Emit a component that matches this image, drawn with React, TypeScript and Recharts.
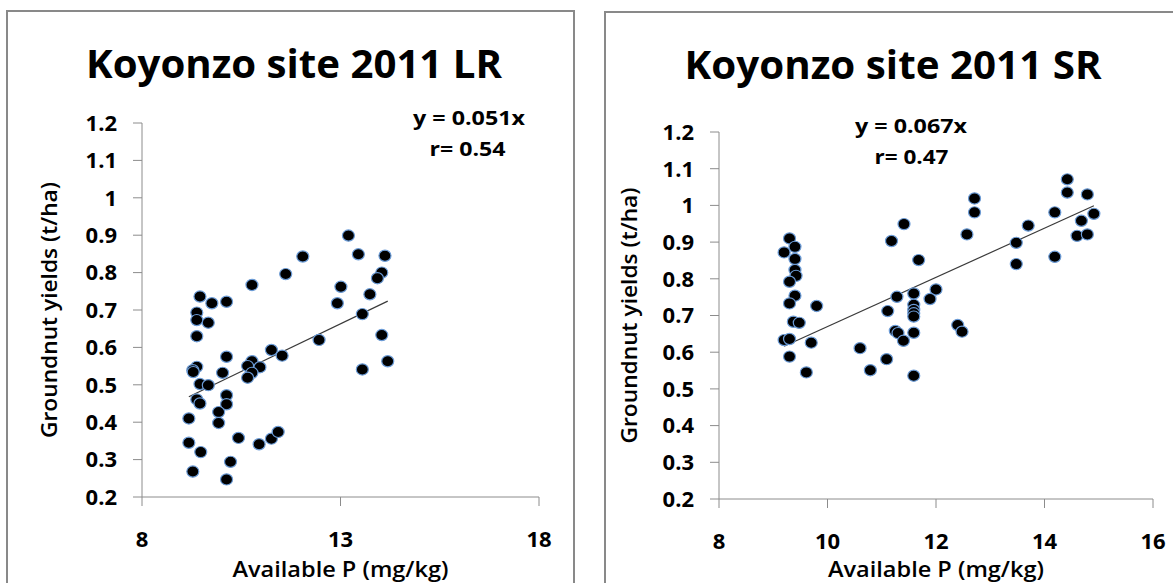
import React from 'react';
import { ScatterChart, Scatter, XAxis, YAxis, ReferenceLine } from 'recharts';

// Koyonzo 2011 long rains (LR): available P vs groundnut yield
const lrP = [
  13.2, 12.05, 13.45, 14.12, 11.62, 14.04, 13.93, 10.77, 13.01, 13.74, 9.46, 9.76, 10.13, 12.92,
  9.38, 9.38, 9.67, 13.55, 9.38, 14.04, 12.46, 11.26, 11.53, 14.19, 10.13, 10.77, 10.66, 10.97,
  9.38, 9.28, 9.29, 10.03, 10.77, 10.66, 13.55, 9.46, 9.67, 9.38, 9.46, 10.13, 10.13, 9.93, 9.93,
  9.18, 9.18, 10.43, 10.95, 11.26, 11.43, 9.48, 10.23, 9.28, 10.13,
];
const lrYield = [
  0.899, 0.843, 0.849, 0.845, 0.796, 0.8, 0.785, 0.767, 0.762, 0.742, 0.736, 0.718, 0.722, 0.718,
  0.693, 0.673, 0.666, 0.689, 0.63, 0.633, 0.62, 0.593, 0.578, 0.563, 0.575, 0.563, 0.55, 0.547,
  0.548, 0.539, 0.534, 0.532, 0.532, 0.519, 0.541, 0.502, 0.499, 0.461, 0.45, 0.472, 0.448, 0.427,
  0.398, 0.41, 0.345, 0.358, 0.341, 0.356, 0.374, 0.32, 0.294, 0.268, 0.247,
];

// Koyonzo 2011 short rains (SR)
const srP = [
  14.42, 14.42, 14.79, 12.71, 12.71, 14.19, 14.91, 14.68, 13.7, 11.41, 12.57, 14.6, 14.79, 13.48,
  11.18, 9.3, 9.2, 9.4, 9.4, 11.68, 14.19, 13.48, 9.4, 9.42, 9.3, 12.0, 11.59, 11.89, 9.4, 11.28,
  9.3, 9.8, 11.59, 11.59, 11.59, 11.59, 11.11, 9.37, 9.48, 12.4, 12.48, 11.25, 11.3, 11.59, 9.2,
  9.3, 11.4, 9.7, 10.6, 9.3, 11.09, 10.79, 9.61, 11.59,
];
const srYield = [
  1.071, 1.035, 1.03, 1.019, 0.981, 0.981, 0.977, 0.958, 0.945, 0.949, 0.921, 0.917, 0.921, 0.898,
  0.903, 0.91, 0.872, 0.887, 0.854, 0.851, 0.86, 0.84, 0.824, 0.808, 0.792, 0.771, 0.76, 0.745,
  0.754, 0.751, 0.733, 0.726, 0.729, 0.715, 0.706, 0.697, 0.712, 0.683, 0.68, 0.674, 0.656, 0.658,
  0.652, 0.653, 0.633, 0.636, 0.631, 0.626, 0.611, 0.588, 0.581, 0.551, 0.545, 0.536,
];

const lrSlope = 0.051;
const srSlope = 0.067;

const yTicks = [0.2, 0.3, 0.4, 0.5, 0.6, 0.7, 0.8, 0.9, 1, 1.1, 1.2];
const lrXTicks = [8, 13, 18];
const srXTicks = [8, 10, 12, 14, 16];

const FONT = '"Open Sans", Lato, sans-serif';
const AXIS = '#8c8c8c';

const toPoints = (xs: number[], ys: number[]) => xs.map((p, i) => ({ p, y: ys[i] }));
const fitSegment = (xs: number[], slope: number) => {
  const lo = Math.min(...xs);
  const hi = Math.max(...xs);
  return [
    { x: lo, y: slope * lo },
    { x: hi, y: slope * hi },
  ];
};

const fmtY = (v: number) => String(Math.round(v * 10) / 10);

const Dot = (props: any) => (
  <ellipse cx={props.cx} cy={props.cy} rx={6} ry={5.6} fill="#000" stroke="#6b9bd6" strokeWidth={1.2} />
);

const tickStyle = { fill: '#000', fontSize: 22, fontWeight: 700, fontFamily: FONT };

const yTitle = (cx: number, len: number) => (props: any) => {
  const vb = props.viewBox || {};
  const cy = vb.y + vb.height / 2;
  return (
    <text
      x={cx}
      y={cy}
      transform={`rotate(-90, ${cx}, ${cy})`}
      textAnchor="middle"
      dominantBaseline="central"
      fontFamily={FONT}
      fontSize={22}
      fontWeight={600}
      fill="#000"
      textLength={len}
      lengthAdjust="spacingAndGlyphs"
    >
      Groundnut yields (t/ha)
    </text>
  );
};

const xTitle = (baseline: number, len: number) => (props: any) => {
  const vb = props.viewBox || {};
  return (
    <text
      x={vb.x + vb.width / 2}
      y={baseline}
      textAnchor="middle"
      fontFamily={FONT}
      fontSize={22}
      fontWeight={600}
      fill="#000"
      textLength={len}
      lengthAdjust="spacingAndGlyphs"
    >
      Available P (mg/kg)
    </text>
  );
};

interface PanelProps {
  left: number;
  width: number;
  margin: { top: number; right: number; bottom: number; left: number };
  yAxisWidth: number;
  xAxisHeight: number;
  xDomain: [number, number];
  xTicks: number[];
  xs: number[];
  ys: number[];
  slope: number;
  yTitleX: number;
}

const Panel: React.FC<PanelProps> = ({ left, width, margin, yAxisWidth, xAxisHeight, xDomain, xTicks, xs, ys, slope, yTitleX }) => (
  <div style={{ position: 'absolute', left, top: 0 }}>
    <ScatterChart width={width} height={583} margin={margin}>
      <XAxis
        type="number"
        dataKey="p"
        domain={xDomain}
        ticks={xTicks}
        interval={0}
        height={xAxisHeight}
        tickSize={9}
        tickMargin={25}
        axisLine={{ stroke: AXIS }}
        tickLine={{ stroke: AXIS }}
        tick={tickStyle}
        label={{ content: xTitle(577, 216) }}
      />
      <YAxis
        type="number"
        dataKey="y"
        domain={[0.2, 1.2]}
        ticks={yTicks}
        interval={0}
        width={yAxisWidth}
        tickSize={9}
        tickMargin={16}
        tickFormatter={fmtY}
        axisLine={{ stroke: AXIS }}
        tickLine={{ stroke: AXIS }}
        tick={tickStyle}
        label={{ content: yTitle(yTitleX, 256) }}
      />
      <ReferenceLine segment={fitSegment(xs, slope)} stroke="#3a3a3a" strokeWidth={1.2} ifOverflow="visible" />
      <Scatter data={toPoints(xs, ys)} shape={Dot} isAnimationActive={false} />
    </ScatterChart>
  </div>
);

const labelText = { fontFamily: FONT, fill: '#000', lengthAdjust: 'spacingAndGlyphs' as const };

export default function App() {
  return (
    <div style={{ position: 'absolute', left: 0, top: 0, width: 1173, height: 583, overflow: 'hidden', background: '#fff' }}>
      {/* panel frames */}
      <div style={{ position: 'absolute', left: 6, top: 10, width: 565, height: 600, border: '2px solid #898989' }} />
      <div style={{ position: 'absolute', left: 604, top: 11, width: 600, height: 600, border: '2px solid #898989' }} />

      <Panel
        left={0}
        width={580}
        margin={{ top: 123, right: 41, bottom: 0, left: 0 }}
        yAxisWidth={142}
        xAxisHeight={86}
        xDomain={[8, 18]}
        xTicks={lrXTicks}
        xs={lrP}
        ys={lrYield}
        slope={lrSlope}
        yTitleX={48}
      />
      <Panel
        left={590}
        width={583}
        margin={{ top: 132, right: 20, bottom: 0, left: 0 }}
        yAxisWidth={129}
        xAxisHeight={84}
        xDomain={[8, 16]}
        xTicks={srXTicks}
        xs={srP}
        ys={srYield}
        slope={srSlope}
        yTitleX={38}
      />

      <svg width={1173} height={583} style={{ position: 'absolute', left: 0, top: 0, pointerEvents: 'none' }}>
        <text x={294} y={78} textAnchor="middle" fontSize={40} fontWeight={700} textLength={416} {...labelText}>
          Koyonzo site 2011 LR
        </text>
        <text x={893} y={79} textAnchor="middle" fontSize={40} fontWeight={700} textLength={417} {...labelText}>
          Koyonzo site 2011 SR
        </text>
        <text x={469} y={124.5} textAnchor="middle" fontSize={20} fontWeight={700} textLength={112} {...labelText}>
          y = 0.051x
        </text>
        <text x={467.5} y={155.5} textAnchor="middle" fontSize={20} fontWeight={700} textLength={76} {...labelText}>
          r= 0.54
        </text>
        <text x={911} y={132.5} textAnchor="middle" fontSize={20} fontWeight={700} textLength={112} {...labelText}>
          y = 0.067x
        </text>
        <text x={911.5} y={163.5} textAnchor="middle" fontSize={20} fontWeight={700} textLength={74} {...labelText}>
          r= 0.47
        </text>
      </svg>
    </div>
  );
}
